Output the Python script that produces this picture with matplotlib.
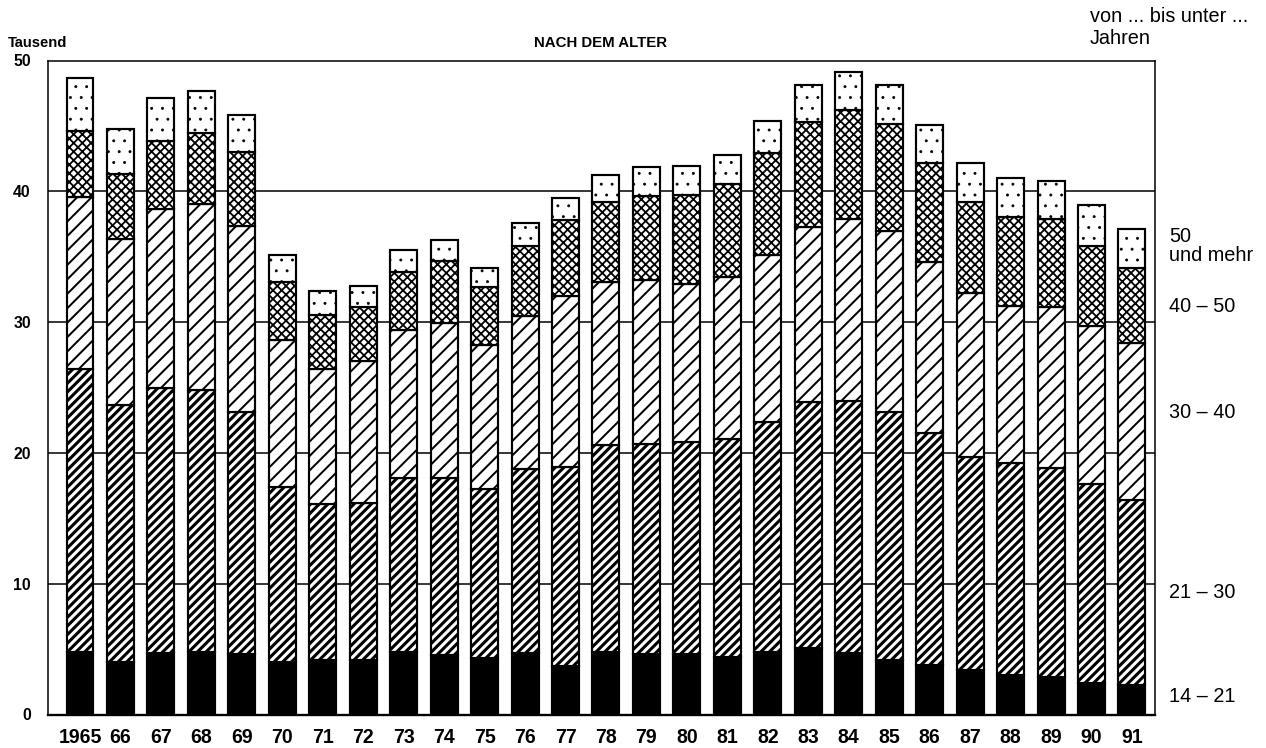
import matplotlib
matplotlib.use("Agg")
import matplotlib.pyplot as plt
import numpy as np

# ---- data (thousands) ----
years = ["1965", "66", "67", "68", "69", "70", "71", "72", "73", "74", "75", "76", "77",
         "78", "79", "80", "81", "82", "83", "84", "85", "86", "87", "88", "89", "90", "91"]
age_14_21 = [4.8, 4.0, 4.7, 4.8, 4.6, 4.0, 4.2, 4.2, 4.8, 4.55, 4.3, 4.7, 3.7,
             4.8, 4.6, 4.6, 4.4, 4.8, 5.1, 4.7, 4.2, 3.8, 3.4, 3.0, 2.9, 2.4, 2.25]
age_21_30 = [21.6, 19.65, 20.3, 20.0, 18.5, 13.4, 11.9, 11.95, 13.3, 13.5, 12.95, 14.1, 15.2,
             15.8, 16.1, 16.2, 16.7, 17.6, 18.8, 19.3, 18.95, 17.7, 16.3, 16.2, 15.95, 15.2, 14.15]
age_30_40 = [13.15, 12.7, 13.65, 14.2, 14.25, 11.2, 10.3, 10.85, 11.3, 11.85, 11.0, 11.7, 13.1,
             12.45, 12.55, 12.15, 12.35, 12.7, 13.4, 13.85, 13.8, 13.1, 12.5, 12.05, 12.3, 12.1, 12.0]
age_40_50 = [5.05, 5.0, 5.2, 5.45, 5.65, 4.5, 4.15, 4.15, 4.45, 4.75, 4.4, 5.3, 5.8,
             6.15, 6.4, 6.75, 7.1, 7.8, 8.0, 8.35, 8.2, 7.55, 7.0, 6.75, 6.7, 6.1, 5.75]
age_50_plus = [4.1, 3.45, 3.3, 3.2, 2.85, 2.0, 1.8, 1.6, 1.65, 1.6, 1.45, 1.75, 1.65,
               2.05, 2.2, 2.2, 2.2, 2.45, 2.8, 2.9, 3.0, 2.95, 2.95, 3.0, 2.9, 3.15, 3.0]

layer_values = [age_14_21, age_21_30, age_30_40, age_40_50, age_50_plus]
layer_labels = ["14 \u2013 21", "21 \u2013 30", "30 \u2013 40", "40 \u2013 50", "50\nund mehr"]
yticks = [0, 10, 20, 30, 40, 50]

# ---- figure ----
W, H, DPI = 1266, 748, 130
plt.rcParams["font.family"] = ["Liberation Sans", "DejaVu Sans"]
fig = plt.figure(figsize=(W / DPI, H / DPI), dpi=DPI)
fig.patch.set_facecolor("white")

left_px, right_px, top_px, bottom_px = 48, 1155, 60.5, 714.5
ax = fig.add_axes([left_px / W, 1 - bottom_px / H,
                   (right_px - left_px) / W, (bottom_px - top_px) / H])

x = np.arange(len(years))
styles = [
    dict(color="black", hatch=None, hlw=1.0),
    dict(color="white", hatch="/////", hlw=1.7),
    dict(color="white", hatch="///", hlw=1.1),
    dict(color="white", hatch="xxxxx", hlw=1.0),
    dict(color="white", hatch="..", hlw=0.4),
]

bottom = np.zeros(len(years))
for vals, st in zip(layer_values, styles):
    vals = np.array(vals, dtype=float)
    bars = ax.bar(x, vals, bottom=bottom, width=0.667, color=st["color"],
                  edgecolor="black", linewidth=1.2, hatch=st["hatch"], zorder=3)
    for b in bars:
        b.set_hatch_linewidth(st["hlw"])
    bottom += vals

ax.set_xlim(-0.791, 26.57)
ax.set_ylim(0, 50)
ax.set_yticks(yticks)
ax.set_yticklabels([str(t) for t in yticks], fontsize=8.8, fontweight="bold")
ax.set_xticks(x)
ax.set_xticklabels(years, fontsize=10.8, fontweight="bold")
ax.tick_params(axis="y", length=0, pad=9.5)
ax.tick_params(axis="x", length=0, pad=7.5)

for t in [10, 20, 30, 40]:
    ax.axhline(t, color="black", linewidth=0.85, zorder=1)

for s in ["left", "top", "right"]:
    ax.spines[s].set_linewidth(0.85)
ax.spines["bottom"].set_linewidth(1.3)

# ---- texts ----
def fx(px):
    return px / W

def fy(py):
    return 1 - py / H

fig.text(fx(8), fy(43), "Tausend", fontsize=8.2, fontweight="bold", va="center", ha="left")
fig.text(fx(601), fy(43), "NACH DEM ALTER", fontsize=8.3, fontweight="bold", va="center", ha="center")
fig.text(fx(1090), fy(16), "von ... bis unter ...", fontsize=11, va="center", ha="left")
fig.text(fx(1090), fy(39), "Jahren", fontsize=11, va="center", ha="left")

label_y = [697, 593, 413, 306, 246]
for lab, py in zip(layer_labels, label_y):
    fig.text(fx(1169), fy(py), lab, fontsize=11, va="center", ha="left", linespacing=1.05)

fig.savefig("out.png", dpi=DPI, facecolor="white")
